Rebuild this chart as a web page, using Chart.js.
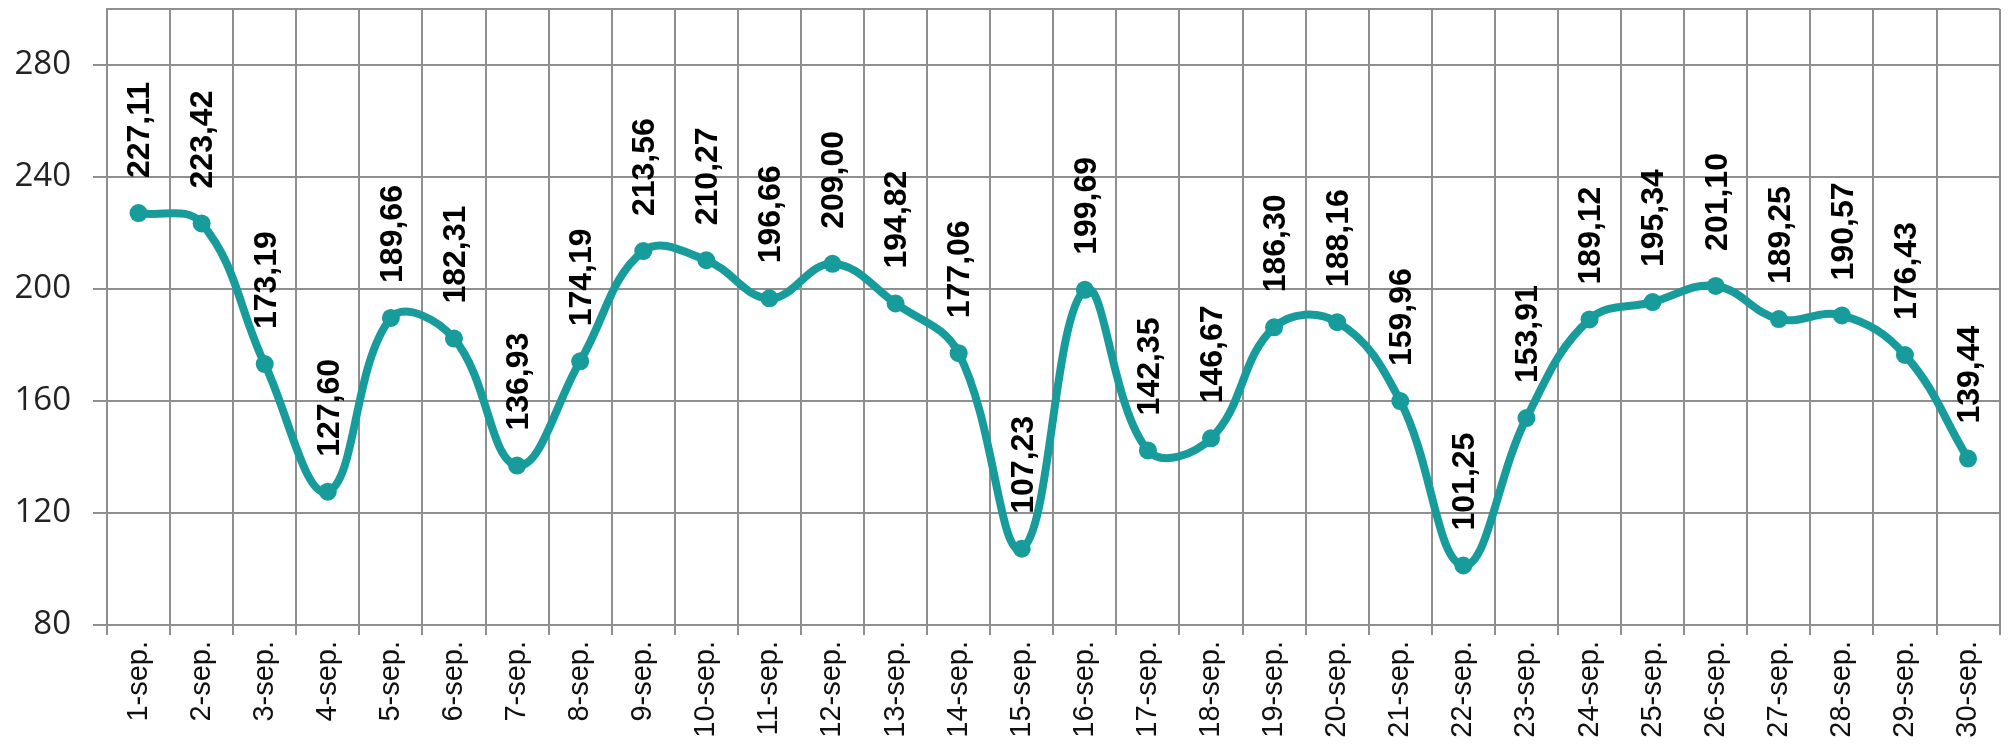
<!DOCTYPE html>
<html>
<head>
<meta charset="utf-8">
<script src="https://cdn.jsdelivr.net/npm/chart.js@4/dist/chart.umd.min.js"></script>
<style>
  html, body { margin: 0; padding: 0; background: #fff; }
  canvas { display: block; }
</style>
</head>
<body>
<canvas id="chart" width="2009" height="750"></canvas>
<script>
const days = ['1-sep.', '2-sep.', '3-sep.', '4-sep.', '5-sep.', '6-sep.', '7-sep.', '8-sep.', '9-sep.', '10-sep.',
  '11-sep.', '12-sep.', '13-sep.', '14-sep.', '15-sep.', '16-sep.', '17-sep.', '18-sep.', '19-sep.', '20-sep.',
  '21-sep.', '22-sep.', '23-sep.', '24-sep.', '25-sep.', '26-sep.', '27-sep.', '28-sep.', '29-sep.', '30-sep.'];
const values = [227.11, 223.42, 173.19, 127.60, 189.66, 182.31, 136.93, 174.19, 213.56, 210.27,
  196.66, 209.00, 194.82, 177.06, 107.23, 199.69, 142.35, 146.67, 186.30, 188.16,
  159.96, 101.25, 153.91, 189.12, 195.34, 201.10, 189.25, 190.57, 176.43, 139.44];
const yMin = 80;
const yMax = 300;
const yStep = 40;

const gridGray = '#8f8f8f';
const teal = '#179b9b';

// draws the rotated value labels above each point
const valueLabels = {
  id: 'valueLabels',
  afterDatasetsDraw(chart) {
    const ctx = chart.ctx;
    const meta = chart.getDatasetMeta(0);
    ctx.save();
    ctx.font = 'bold 32px "Liberation Sans", Arial, sans-serif';
    ctx.fillStyle = '#000';
    ctx.textAlign = 'left';
    ctx.textBaseline = 'middle';
    meta.data.forEach((pt, i) => {
      const txt = values[i].toFixed(2).replace('.', ',');
      ctx.save();
      ctx.translate(pt.x + 2, pt.y - 35);
      ctx.rotate(-Math.PI / 2);
      ctx.fillText(txt, 0, 0);
      ctx.restore();
    });
    ctx.restore();
  }
};

const config = {
  type: 'line',
  data: {
    labels: days,
    datasets: [{
      data: values,
      borderColor: teal,
      backgroundColor: teal,
      borderWidth: 8,
      pointRadius: 9,
      pointBackgroundColor: teal,
      pointBorderWidth: 0,
      tension: 0.4,
      fill: false
    }]
  },
  options: {
    responsive: false,
    animation: false,
    layout: { padding: { top: 7, right: 8, left: 0, bottom: 0 } },
    plugins: {
      legend: { display: false },
      tooltip: { enabled: false }
    },
    scales: {
      x: {
        offset: true,
        grid: {
          offset: true,
          color: gridGray,
          lineWidth: 2,
          tickLength: 10
        },
        border: { color: gridGray, width: 2 },
        ticks: {
          minRotation: 90,
          maxRotation: 90,
          padding: 6,
          color: '#111',
          font: { family: '"Liberation Sans", Arial, sans-serif', size: 29 }
        },
        afterFit(scale) { scale.height = 125; }
      },
      y: {
        min: yMin,
        max: yMax,
        grid: {
          color: gridGray,
          lineWidth: 2,
          tickLength: 14,
          tickColor: (c) => (c.tick && c.tick.value === yMax ? 'transparent' : gridGray)
        },
        border: { color: gridGray, width: 2 },
        ticks: {
          stepSize: yStep,
          padding: 22,
          color: '#222',
          font: { family: '"Open Sans", sans-serif', size: 33 },
          callback: (v) => (v === yMax ? '' : v)
        },
        afterFit(scale) {
          scale.width = 107;
          scale.paddingTop = 0;
        }
      }
    }
  },
  plugins: [valueLabels]
};

new Chart(document.getElementById('chart').getContext('2d'), config);
</script>
</body>
</html>
